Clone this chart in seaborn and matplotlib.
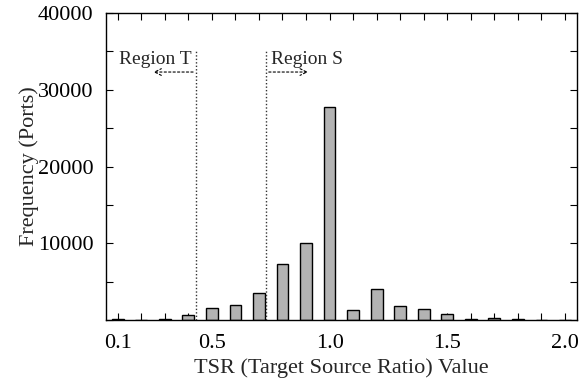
import matplotlib
matplotlib.use("Agg")
import matplotlib.pyplot as plt
import seaborn as sns
import pandas as pd
from matplotlib.ticker import MultipleLocator

tsr = [0.1, 0.2, 0.3, 0.4, 0.5, 0.6, 0.7, 0.8, 0.9, 1.0,
       1.1, 1.2, 1.3, 1.4, 1.5, 1.6, 1.7, 1.8, 1.9, 2.0]
freq = [150, 60, 150, 700, 1600, 2000, 3500, 7300, 10100, 27800,
        1300, 4100, 1850, 1500, 850, 200, 300, 200, 60, 60]
xtick_labels = ["0.1", "0.5", "1.0", "1.5", "2.0"]
xtick_vals = [0.1, 0.5, 1.0, 1.5, 2.0]
ytick_vals = [10000, 20000, 30000, 40000]
region_t = 0.432
region_s = 0.73

sns.set_theme(style="ticks")
plt.rcParams['font.family'] = ['Liberation Serif', 'DejaVu Serif']

df = pd.DataFrame({"tsr": tsr, "freq": freq})

fig = plt.figure(figsize=(5.82, 3.90), dpi=100)
ax = fig.add_axes([0.182, 0.179, 0.809, 0.788])

sns.barplot(data=df, x="tsr", y="freq", native_scale=True, width=0.5,
            color="#b3b3b3", saturation=1, edgecolor="black", linewidth=1.0, ax=ax)

ax.set_xlim(0.05, 2.05)
ax.set_ylim(0, 40000)
ax.set_xticks(xtick_vals)
ax.set_xticklabels(xtick_labels)
ax.xaxis.set_minor_locator(MultipleLocator(0.1))
ax.set_yticks(ytick_vals)
ax.set_yticklabels([str(v) for v in ytick_vals])
ax.yaxis.set_minor_locator(MultipleLocator(5000))
ax.tick_params(axis="both", which="both", direction="in", top=True, right=True,
               labelsize=16, colors="black")
ax.tick_params(axis="both", which="major", length=5, width=0.8)
ax.tick_params(axis="both", which="minor", length=5, width=0.8)
ax.tick_params(axis="x", pad=10)
ax.tick_params(axis="y", pad=9)
for s in ax.spines.values():
    s.set_color("black")
    s.set_linewidth(1.0)

ax.set_xlabel("TSR (Target Source Ratio) Value", fontsize=16, labelpad=4)
ax.set_ylabel("Frequency (Ports)", fontsize=16, labelpad=-1)

ax.vlines([region_t, region_s], 0, 35000, colors="#333333", linestyles=(0, (1, 1.5)), linewidth=1.0)
ax.annotate("", xy=(0.24, 32300), xytext=(region_t, 32300),
            arrowprops=dict(arrowstyle="->", linestyle=(0, (2, 2)), color="black", lw=0.8))
ax.annotate("", xy=(0.92, 32300), xytext=(region_s, 32300),
            arrowprops=dict(arrowstyle="->", linestyle=(0, (2, 2)), color="black", lw=0.8))
ax.text(0.26, 33950, "Region T", ha="center", va="center", fontsize=14)
ax.text(0.905, 33950, "Region S", ha="center", va="center", fontsize=14)

fig.savefig("out.png", dpi=100)
